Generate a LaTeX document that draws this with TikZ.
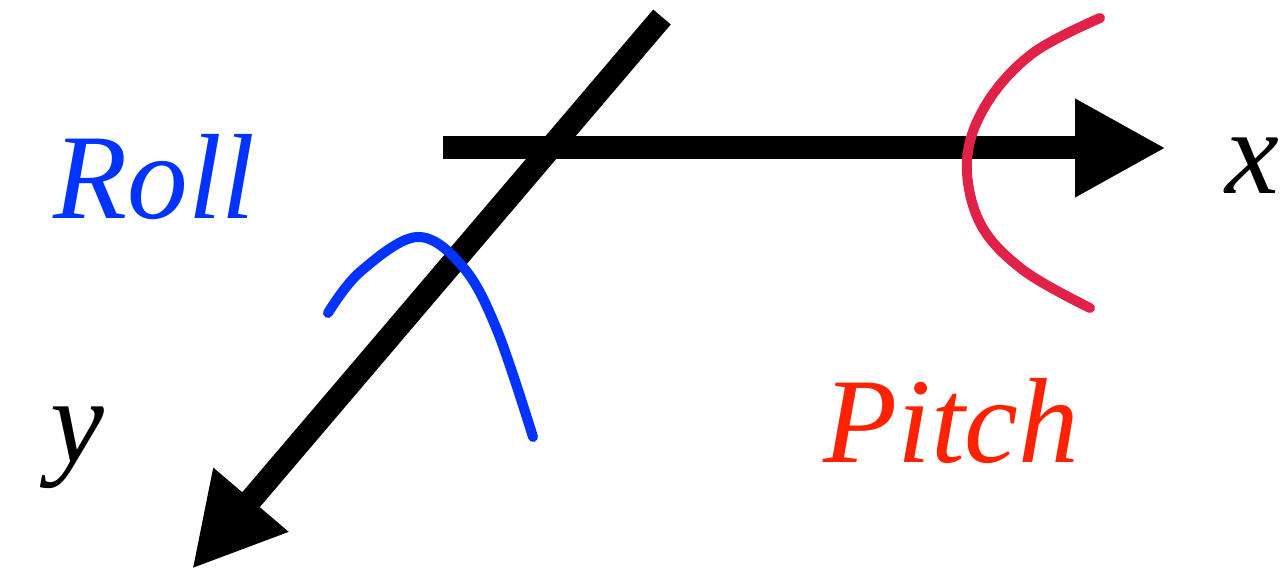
\documentclass[tikz,border=0pt]{standalone}
\usepackage{fontspec}
\setmainfont{Liberation Serif}
\usetikzlibrary{arrows.meta}
\definecolor{rollblue}{RGB}{0,51,255}
\definecolor{pitchred}{RGB}{255,34,0}
\definecolor{arcred}{RGB}{224,33,72}
\begin{document}
\begin{tikzpicture}[
axis/.style={
line width=0.46cm,
-{Triangle[length=1.82cm,width=1.84cm]}
},
chalk/.style={
line width=0.2cm,
line cap=round
},
lbl/.style={
inner sep=0pt,
anchor=base west,
font=\fontsize{69}{80}\selectfont\itshape
}
]
\useasboundingbox (0,0) rectangle (25.7,11.52);

\coordinate (xs) at (8.86,8.56);
\coordinate (xe) at (23.32,8.56);
\coordinate (ys) at (13.24,11.18);
\coordinate (ye) at (3.84,0.14);

\draw[axis] (xs) -- (xe);
\draw[axis] (ys) -- (ye);

% roll and pitch strokes
\draw[chalk,rollblue] plot[smooth,tension=0.6] coordinates
{(6.56,5.26) (7.2,6.08) (8.34,6.78) (9.26,6.18) (9.94,4.92) (10.66,2.78)};
\draw[chalk,arcred] plot[smooth,tension=0.6] coordinates
{(22.0,11.16) (20.66,10.46) (19.74,9.46) (19.34,8.32) (19.6,7.06) (20.46,6.12) (21.8,5.36)};

\node[lbl,text=rollblue] (roll) at (1.06,7.14) {Roll};
\node[lbl,text=pitchred] (pitch) at (16.46,2.26) {Pitch};
\node[lbl] (xlbl) at (24.5,7.64) {x};
\node[lbl] (ylbl) at (1.0,2.26) {y};

\end{tikzpicture}
\end{document}
